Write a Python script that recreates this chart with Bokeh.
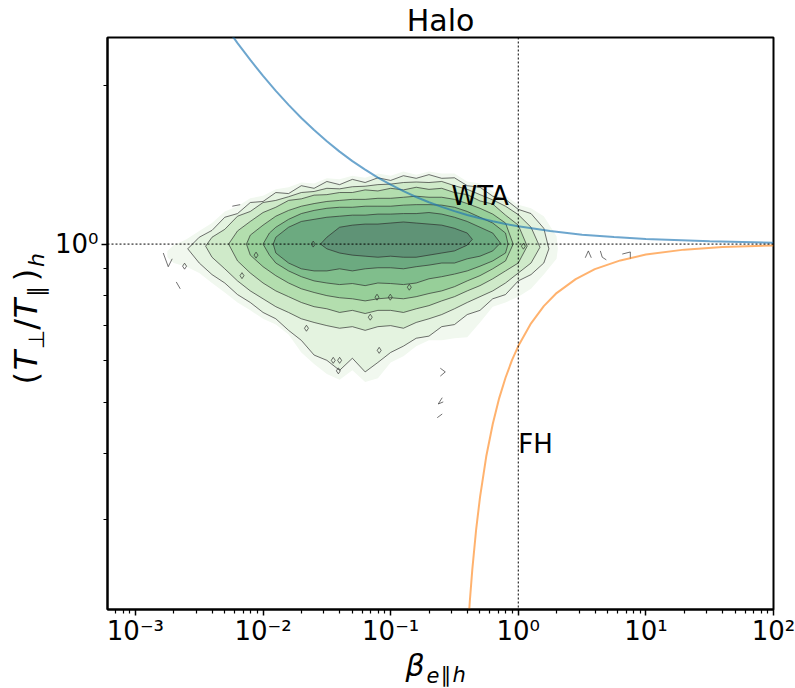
import numpy as np
from bokeh.plotting import figure
from bokeh.layouts import column, row
from bokeh.models import Range1d, FixedTicker, Span
from bokeh.core.properties import value
from bokeh.embed import file_html
from bokeh.resources import INLINE

# ---------------- axes ----------------
x_ticks = [1e-3, 1e-2, 1e-1, 1e0, 1e1, 1e2]
x_tick_labels = ["10\u207b\u00b3", "10\u207b\u00b2", "10\u207b\u00b9", "10\u2070", "10\u00b9", "10\u00b2"]
x_minor = [k * 10.0 ** e for e in range(-4, 2) for k in range(2, 10)]
y_ticks = [1.0]
y_tick_labels = ["10\u2070"]
y_minor = [0.3, 0.4, 0.5, 0.6, 0.7, 0.8, 0.9, 2.0]

# ---------------- density contours (log10 beta, log10 ratio) ----------------
lvl0_logbeta = [-2.75, -2.7, -2.6, -2.5, -2.4, -2.3, -2.2, -2.1, -2.0, -1.9, -1.8, -1.7, -1.6, -1.5, -1.4, -1.3,
                -1.2, -1.1, -1.0, -0.9, -0.8, -0.7, -0.6, -0.5, -0.4, -0.3, -0.2, -0.1, 0.0, 0.1, 0.2, 0.3, 0.31]
lvl0_top = [-0.013, -0.002, 0.009, 0.025, 0.040, 0.062, 0.072, 0.087, 0.092, 0.104, 0.108, 0.117, 0.115, 0.125,
            0.123, 0.130, 0.126, 0.134, 0.130, 0.138, 0.132, 0.138, 0.134, 0.134, 0.119, 0.115, 0.100, 0.092,
            0.075, 0.068, 0.053, 0.015, -0.009]
lvl0_bottom = [-0.025, -0.036, -0.043, -0.055, -0.074, -0.092, -0.111, -0.126, -0.142, -0.153, -0.172, -0.206,
               -0.228, -0.247, -0.258, -0.240, -0.262, -0.255, -0.225, -0.213, -0.194, -0.183, -0.183, -0.179,
               -0.177, -0.149, -0.119, -0.111, -0.100, -0.085, -0.058, -0.028, -0.009]

lvl1_logbeta = [-2.59, -2.5, -2.4, -2.3, -2.2, -2.1, -2.0, -1.9, -1.8, -1.7, -1.6, -1.5, -1.4, -1.3, -1.2, -1.1,
                -1.0, -0.9, -0.8, -0.7, -0.6, -0.5, -0.4, -0.3, -0.2, -0.1, 0.0, 0.1, 0.2, 0.24]
lvl1_top = [-0.009, 0.013, 0.026, 0.051, 0.058, 0.079, 0.081, 0.098, 0.096, 0.111, 0.106, 0.119, 0.113, 0.123,
            0.117, 0.126, 0.121, 0.130, 0.125, 0.132, 0.125, 0.126, 0.111, 0.108, 0.091, 0.085, 0.066, 0.058,
            0.030, -0.009]
lvl1_bottom = [-0.009, -0.036, -0.058, -0.074, -0.096, -0.111, -0.130, -0.142, -0.164, -0.183, -0.211, -0.221,
               -0.240, -0.217, -0.243, -0.225, -0.206, -0.194, -0.179, -0.175, -0.157, -0.153, -0.134, -0.126,
               -0.104, -0.096, -0.070, -0.058, -0.036, -0.009]

lvl2_logbeta = [-2.45, -2.4, -2.3, -2.2, -2.1, -2.0, -1.9, -1.8, -1.7, -1.6, -1.5, -1.4, -1.3, -1.2, -1.1, -1.0,
                -0.9, -0.8, -0.7, -0.6, -0.5, -0.4, -0.3, -0.2, -0.1, 0.0, 0.1, 0.17]
lvl2_top = [-0.004, 0.013, 0.028, 0.053, 0.062, 0.079, 0.083, 0.090, 0.098, 0.100, 0.106, 0.105, 0.109, 0.110,
            0.113, 0.114, 0.117, 0.118, 0.117, 0.119, 0.111, 0.104, 0.094, 0.084, 0.072, 0.056, 0.032, -0.006]
lvl2_bottom = [-0.004, -0.025, -0.047, -0.070, -0.089, -0.104, -0.119, -0.130, -0.142, -0.149, -0.155, -0.160,
               -0.157, -0.164, -0.157, -0.155, -0.160, -0.149, -0.142, -0.134, -0.123, -0.111, -0.100, -0.089,
               -0.074, -0.055, -0.036, -0.006]

lvl3_logbeta = [-2.27, -2.2, -2.1, -2.0, -1.9, -1.8, -1.7, -1.6, -1.5, -1.4, -1.3, -1.2, -1.1, -1.0, -0.9, -0.8,
                -0.7, -0.6, -0.5, -0.4, -0.3, -0.2, -0.1, 0.0, 0.07]
lvl3_top = [0.000, 0.025, 0.043, 0.060, 0.070, 0.083, 0.086, 0.093, 0.094, 0.098, 0.098, 0.103, 0.101, 0.106,
            0.103, 0.108, 0.104, 0.106, 0.098, 0.094, 0.082, 0.076, 0.055, 0.036, -0.004]
lvl3_bottom = [0.000, -0.032, -0.055, -0.074, -0.089, -0.100, -0.111, -0.119, -0.123, -0.130, -0.126, -0.132,
               -0.126, -0.126, -0.130, -0.123, -0.117, -0.108, -0.100, -0.089, -0.079, -0.066, -0.051, -0.036,
               -0.004]

lvl4_logbeta = [-2.13, -2.1, -2.0, -1.9, -1.8, -1.7, -1.6, -1.5, -1.4, -1.3, -1.2, -1.1, -1.0, -0.9, -0.8, -0.7,
                -0.6, -0.5, -0.4, -0.3, -0.2, -0.1, -0.04]
lvl4_top = [0.000, 0.017, 0.036, 0.053, 0.064, 0.072, 0.077, 0.081, 0.083, 0.085, 0.085, 0.087, 0.087, 0.089,
            0.091, 0.089, 0.089, 0.085, 0.077, 0.068, 0.057, 0.040, 0.000]
lvl4_bottom = [0.000, -0.021, -0.043, -0.060, -0.074, -0.085, -0.092, -0.098, -0.102, -0.104, -0.108, -0.104,
               -0.102, -0.104, -0.100, -0.094, -0.089, -0.081, -0.070, -0.060, -0.047, -0.032, 0.000]

lvl5_logbeta = [-2.0, -1.95, -1.9, -1.8, -1.7, -1.6, -1.5, -1.4, -1.3, -1.2, -1.1, -1.0, -0.9, -0.8, -0.7, -0.6,
                -0.5, -0.4, -0.3, -0.2, -0.1, -0.08]
lvl5_top = [0.000, 0.021, 0.032, 0.047, 0.058, 0.064, 0.068, 0.070, 0.070, 0.072, 0.072, 0.072, 0.074, 0.075,
            0.075, 0.074, 0.070, 0.062, 0.051, 0.040, 0.021, 0.000]
lvl5_bottom = [0.000, -0.021, -0.036, -0.051, -0.062, -0.070, -0.074, -0.077, -0.075, -0.079, -0.074, -0.075,
               -0.077, -0.074, -0.066, -0.062, -0.057, -0.051, -0.042, -0.032, -0.017, 0.000]

lvl6_logbeta = [-1.92, -1.9, -1.8, -1.7, -1.6, -1.5, -1.4, -1.3, -1.2, -1.1, -1.0, -0.9, -0.8, -0.7, -0.6, -0.5,
                -0.4, -0.3, -0.2, -0.14]
lvl6_top = [0.000, 0.013, 0.032, 0.043, 0.047, 0.051, 0.053, 0.055, 0.055, 0.057, 0.057, 0.058, 0.058, 0.060,
            0.057, 0.051, 0.043, 0.032, 0.021, 0.002]
lvl6_bottom = [0.000, -0.017, -0.036, -0.047, -0.051, -0.051, -0.047, -0.051, -0.047, -0.045, -0.045, -0.047,
               -0.043, -0.040, -0.036, -0.036, -0.028, -0.023, -0.013, 0.002]

lvl7_logbeta = [-1.55, -1.5, -1.4, -1.3, -1.2, -1.1, -1.0, -0.9, -0.8, -0.7, -0.6, -0.5, -0.4, -0.36]
lvl7_top = [0.000, 0.013, 0.032, 0.036, 0.038, 0.038, 0.040, 0.042, 0.040, 0.038, 0.036, 0.030, 0.021, 0.009]
lvl7_bottom = [0.000, -0.009, -0.017, -0.021, -0.023, -0.025, -0.023, -0.025, -0.025, -0.021, -0.017, -0.013,
               -0.002, 0.009]

level_colors = ["#f1f8ef", "#e4f3e0", "#cfeac9", "#b3deae", "#97cf99", "#80be8c", "#6caa80", "#5f9376"]

# small isolated contour islands (log10 beta, log10 ratio)
island_logbeta = [-1.607, -2.055, -2.165, -1.107, -1.003, -0.854, -1.16, -2.615, -1.09, -1.45, -1.40, -1.41, -1.66, 0.04]
island_logratio = [0.0, -0.021, -0.060, -0.101, -0.101, -0.082, -0.139, -0.042, -0.202, -0.221, -0.221, -0.241, -0.160, -0.004]

# stray contour fragments (log10 beta, log10 ratio)
frag_logbeta = [[-2.782, -2.743, -2.712], [-2.680, -2.649], [0.525, 0.549, 0.572], [0.643, 0.658, 0.690],
                [0.815, 0.878, 0.878], [-0.611, -0.572, -0.611], [-0.596, -0.627, -0.588], [-0.635, -0.596],
                [-2.241, -2.179]]
frag_logratio = [[-0.017, -0.043, -0.028], [-0.072, -0.085], [-0.026, -0.013, -0.026], [-0.013, -0.025, -0.030],
                 [-0.019, -0.015, -0.028], [-0.236, -0.243, -0.251], [-0.292, -0.304, -0.300], [-0.330, -0.323],
                 [0.072, 0.075]]

# ---------------- instability thresholds ----------------
wta_logbeta = [-2.3, -2.2, -2.1, -2.0, -1.9, -1.8, -1.7, -1.6, -1.5, -1.4, -1.3, -1.2, -1.1, -1.0, -0.9, -0.8,
               -0.7, -0.6, -0.5, -0.4, -0.3, -0.2, -0.1, 0.0, 0.25, 0.5, 0.75, 1.0, 1.5, 2.0]
wta_ratio = [2.606, 2.410, 2.239, 2.088, 1.955, 1.839, 1.737, 1.647, 1.568, 1.499, 1.438, 1.385, 1.338, 1.297,
             1.261, 1.229, 1.201, 1.177, 1.155, 1.136, 1.120, 1.105, 1.092, 1.081, 1.059, 1.042, 1.031, 1.022,
             1.012, 1.006]
fh_logbeta = [-0.39, -0.38, -0.36, -0.33, -0.3, -0.25, -0.2, -0.15, -0.1, -0.05, 0.0, 0.1, 0.2, 0.3, 0.45, 0.6,
              0.8, 1.0, 1.3, 1.6, 2.0]
fh_ratio = [0.192, 0.209, 0.241, 0.287, 0.330, 0.396, 0.455, 0.509, 0.557, 0.601, 0.640, 0.707, 0.762, 0.807,
            0.858, 0.896, 0.931, 0.955, 0.976, 0.987, 0.994]

# annotation anchors (beta, ratio)
wta_label_pos = (0.30, 1.234)
fh_label_pos = (1.0, 0.416)

FONT = "DejaVu Sans"

# ---------------- layout sizes (pixels) ----------------
TOTAL_W, TOTAL_H = 795, 688
YLAB_W = 50
MAIN_W = TOTAL_W - YLAB_W
MAIN_H = 648            # 35 (top, title) + 576 (frame) + 37 (bottom)
XLAB_H = TOTAL_H - MAIN_H
BASE_SHIFT = 0.37       # baseline correction, in em

p = figure(width=MAIN_W, height=MAIN_H, x_axis_type="log", y_axis_type="log",
           x_range=Range1d(6.04e-4, 100), y_range=Range1d(0.202, 2.47),
           output_backend="svg", toolbar_location=None, title="Halo",
           min_border_left=57, min_border_right=22, min_border_top=35, min_border_bottom=37)
p.title.text_font = FONT
p.title.text_font_size = "30px"
p.title.text_font_style = "normal"
p.title.text_color = "black"
p.title.align = "center"
p.title.standoff = 0
p.grid.visible = False
p.outline_line_color = "black"
p.outline_line_width = 2
p.background_fill_color = "white"
p.border_fill_color = "white"

levels = [
    (lvl0_logbeta, lvl0_top, lvl0_bottom),
    (lvl1_logbeta, lvl1_top, lvl1_bottom),
    (lvl2_logbeta, lvl2_top, lvl2_bottom),
    (lvl3_logbeta, lvl3_top, lvl3_bottom),
    (lvl4_logbeta, lvl4_top, lvl4_bottom),
    (lvl5_logbeta, lvl5_top, lvl5_bottom),
    (lvl6_logbeta, lvl6_top, lvl6_bottom),
    (lvl7_logbeta, lvl7_top, lvl7_bottom),
]
for i, (lb, top, bot) in enumerate(levels):
    xs = 10.0 ** np.array(list(lb) + list(lb)[::-1])
    ys = 10.0 ** np.array(list(top) + list(bot)[::-1])
    if i == 0:
        p.patch(xs, ys, fill_color=level_colors[i], line_color=None)
    else:
        p.patch(xs, ys, fill_color=level_colors[i], line_color="#2b2b2b", line_alpha=0.75, line_width=0.9)

p.multi_line([list(10.0 ** np.array(f)) for f in frag_logbeta],
             [list(10.0 ** np.array(f)) for f in frag_logratio],
             line_color="#2b2b2b", line_alpha=0.75, line_width=0.9)
p.scatter(10.0 ** np.array(island_logbeta), 10.0 ** np.array(island_logratio), marker="diamond",
          size=6, fill_color=None, line_color="#2b2b2b", line_alpha=0.75, line_width=0.9)

p.line(10.0 ** np.array(wta_logbeta), wta_ratio, line_color="#1f77b4", line_alpha=0.65, line_width=2)
p.line(10.0 ** np.array(fh_logbeta), fh_ratio, line_color="#ff7f0e", line_alpha=0.6, line_width=2)

p.add_layout(Span(location=1.0, dimension="height", line_color="black", line_width=1, line_dash="2 2"))
p.add_layout(Span(location=1.0, dimension="width", line_color="black", line_width=1, line_dash="2 2"))

p.text(x=[wta_label_pos[0]], y=[wta_label_pos[1]], text=["WTA"], text_font=value(FONT), text_font_size="26px",
       text_baseline="alphabetic", text_align="left", text_color="black")
p.text(x=[fh_label_pos[0]], y=[fh_label_pos[1]], text=["FH"], text_font=value(FONT), text_font_size="26px",
       text_baseline="alphabetic", text_align="left", text_color="black")

# axes styling
p.xaxis.ticker = FixedTicker(ticks=x_ticks, minor_ticks=x_minor)
p.xaxis.major_label_overrides = dict(zip(x_ticks, x_tick_labels))
p.yaxis.ticker = FixedTicker(ticks=y_ticks, minor_ticks=y_minor)
p.yaxis.major_label_overrides = dict(zip(y_ticks, y_tick_labels))
for ax in (p.xaxis[0], p.yaxis[0]):
    ax.axis_line_width = 2
    ax.axis_line_color = "black"
    ax.major_tick_line_color = "black"
    ax.minor_tick_line_color = "black"
    ax.major_tick_line_width = 1.5
    ax.minor_tick_line_width = 1.2
    ax.major_tick_in = 0
    ax.minor_tick_in = 0
    ax.major_tick_out = 6
    ax.minor_tick_out = 4
    ax.major_label_text_font = FONT
    ax.major_label_text_font_size = "26px"
    ax.major_label_text_color = "black"
p.xaxis.major_label_standoff = 0
p.yaxis.major_label_standoff = 3


def blank(w, h, page_x0, page_y0):
    """A text-only panel whose coordinates are page pixels (y negated so it grows upward)."""
    f = figure(width=w, height=h, x_range=Range1d(page_x0, page_x0 + w),
               y_range=Range1d(-(page_y0 + h), -page_y0), output_backend="svg",
               toolbar_location=None, title=None, x_axis_location=None, y_axis_location=None,
               min_border_left=0, min_border_right=0, min_border_top=0, min_border_bottom=0)
    f.grid.visible = False
    f.outline_line_color = None
    f.background_fill_color = "white"
    f.border_fill_color = "white"
    return f


def put(f, x, y, text, size_px, italic=False, rotated=False, align="left"):
    """Place text so that its baseline sits at page position (x, y)."""
    shift = BASE_SHIFT * size_px
    if rotated:
        ax_, ay_, ang = x - shift, y, np.pi / 2
    else:
        ax_, ay_, ang = x, y - shift, 0.0
    f.text(x=[ax_], y=[-ay_], text=[text], angle=ang, text_font=value(FONT), text_font_size=f"{size_px}px",
           text_font_style="italic" if italic else "normal", text_align=align,
           text_baseline="alphabetic", text_color="black")


# y label: (T_perp / T_par)_h, rotated
yfig = blank(YLAB_W, MAIN_H, 0, 0)
put(yfig, 37, 393, "(", 32, rotated=True)
put(yfig, 37, 377, "T", 32, italic=True, rotated=True)
put(yfig, 44, 353, "\u22a5", 22, rotated=True)
put(yfig, 37, 331, "/", 32, rotated=True)
put(yfig, 37, 318, "T", 32, italic=True, rotated=True)
put(yfig, 44, 294, "\u2225", 22, rotated=True)
put(yfig, 37, 276, ")", 32, rotated=True)
put(yfig, 44, 260, "h", 22, italic=True, rotated=True)

# x label: beta_{e||h}
xfig = blank(TOTAL_W, XLAB_H, 0, MAIN_H)
put(xfig, 405, 676, "\u03b2", 30, italic=True)
put(xfig, 426, 682, "e", 21, italic=True)
put(xfig, 440, 682, "\u2225", 21)
put(xfig, 452, 682, "h", 21, italic=True)

layout = column(row(yfig, p), xfig)
open("out.html", "w").write(file_html(layout, INLINE))
